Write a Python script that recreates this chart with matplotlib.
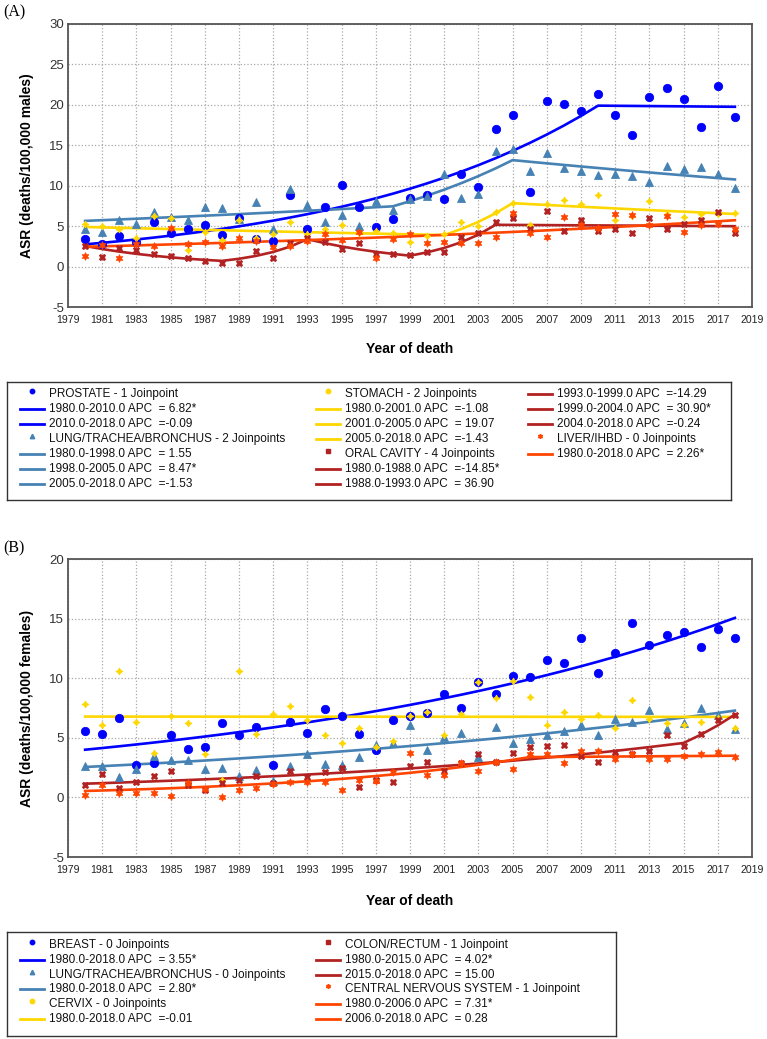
import matplotlib
matplotlib.use('Agg')
import matplotlib.pyplot as plt
from matplotlib import font_manager
import numpy as np

W, H = 767, 1039
installed = {f.name for f in font_manager.fontManager.ttflist}
NARROW = 'Liberation Sans Narrow' if 'Liberation Sans Narrow' in installed else 'Liberation Sans'
plt.rcParams['font.family'] = ['Liberation Sans', 'DejaVu Sans']
plt.rcParams['axes.unicode_minus'] = False

years = np.arange(1980, 2019)

# ---- (A) males ----
prostate = [3.4, 2.8, 3.8, 3.0, 5.5, 4.2, 4.7, 5.2, 3.9, 6.0, 3.4, 3.2, 8.9,
            4.7, 7.4, 10.1, 7.4, 4.9, 5.9, 8.5, 8.9, 8.4, 11.4, 9.9, 17.0, 18.8,
            9.2, 20.5, 20.1, 19.3, 21.3, 18.8, 16.3, 21.0, 22.1, 20.7, 17.3, 22.3, 18.5]
lung_m = [4.6, 4.3, 5.8, 5.3, 6.8, 6.1, 5.8, 7.4, 7.2, 5.9, 8.0, 4.7, 9.6,
          7.6, 5.5, 6.4, 5.0, 8.1, 7.0, 8.4, 8.7, 11.4, 8.5, 9.0, 14.3, 14.5,
          11.8, 14.0, 12.2, 11.8, 11.3, 11.4, 11.2, 10.5, 12.5, 12.1, 12.3, 11.5, 9.7]
stomach = [5.3, 5.0, 4.6, 3.5, 6.3, 6.0, 2.0, 4.3, 3.3, 5.8, 3.5, 4.0, 5.5,
           4.0, 4.7, 5.1, 4.2, 4.4, 4.1, 3.1, 3.8, 4.0, 5.5, 5.0, 6.8, 7.9,
           5.1, 7.7, 8.2, 7.7, 8.9, 5.8, 6.2, 8.1, 6.5, 6.1, 6.5, 6.5, 6.6]
oral = [2.5, 1.2, 2.3, 2.0, 1.5, 1.3, 1.0, 0.7, 0.5, 0.5, 1.9, 1.1, 2.9,
        3.5, 3.0, 2.2, 2.9, 1.6, 1.5, 1.4, 1.8, 1.8, 3.7, 4.2, 5.5, 6.0,
        4.6, 6.9, 4.4, 5.7, 4.4, 4.6, 4.2, 6.0, 4.7, 5.3, 5.8, 6.7, 4.2]
liver = [1.3, 2.7, 1.1, 2.8, 2.6, 4.8, 2.8, 3.0, 2.5, 3.5, 3.2, 2.4, 2.6,
         3.2, 4.0, 3.3, 4.3, 1.1, 3.4, 4.0, 2.9, 3.1, 2.9, 2.9, 3.6, 6.6,
         4.1, 3.7, 6.1, 5.1, 4.8, 6.5, 6.4, 5.2, 6.3, 4.3, 5.2, 5.3, 4.6]

# ---- (B) females ----
breast = [5.6, 5.3, 6.7, 2.7, 2.9, 5.2, 4.1, 4.2, 6.2, 5.2, 5.9, 2.7, 6.3,
          5.4, 7.4, 6.8, 5.3, 4.0, 6.5, 6.8, 7.1, 8.7, 7.5, 9.7, 8.7, 10.2,
          10.1, 11.5, 11.3, 13.4, 10.4, 12.1, 14.6, 12.8, 13.6, 13.9, 12.6, 14.1, 13.4]
lung_f = [2.6, 2.6, 1.7, 2.4, 3.5, 3.1, 3.1, 2.4, 2.5, 1.8, 2.3, 1.4, 2.6,
          3.6, 2.8, 2.7, 3.4, 4.4, 4.6, 6.1, 4.0, 5.1, 5.4, 3.4, 5.9, 4.6,
          4.9, 5.2, 5.6, 6.1, 5.2, 6.6, 6.3, 7.3, 5.7, 6.2, 7.5, 6.9, 5.7]
cervix = [7.8, 6.1, 10.6, 6.3, 3.7, 6.8, 6.2, 3.6, 1.5, 10.6, 5.3, 7.0, 7.7,
          6.5, 5.2, 4.6, 5.8, 4.2, 4.7, 6.8, 7.2, 5.2, 7.0, 9.7, 8.3, 9.8,
          8.4, 6.1, 7.2, 6.6, 6.9, 5.8, 8.2, 6.6, 6.2, 6.1, 6.3, 6.7, 5.8]
colon = [1.0, 2.0, 0.8, 1.3, 1.8, 2.2, 1.0, 0.6, 1.2, 1.5, 1.8, 1.2, 2.2,
         1.7, 2.1, 2.5, 0.9, 1.5, 1.3, 2.6, 3.0, 2.2, 2.9, 3.6, 3.0, 3.7,
         4.2, 4.3, 4.4, 3.5, 3.0, 3.8, 3.6, 3.9, 5.2, 4.3, 5.3, 6.5, 6.9]
cns = [0.2, 1.0, 0.4, 0.4, 0.4, 0.1, 1.2, 0.7, 0.05, 0.6, 0.8, 1.1, 1.3,
       1.3, 1.3, 0.6, 1.5, 1.4, 2.1, 3.7, 1.9, 1.9, 2.9, 2.2, 3.0, 2.4,
       3.6, 3.6, 2.9, 3.9, 3.9, 3.2, 3.6, 3.2, 3.2, 3.5, 3.6, 3.8, 3.4]

# joinpoint models: fitted value in 1980, joinpoint years, APC per segment, significant?
prostate_fit = (2.75, [1980, 2010, 2018], [6.82, -0.09], [True, False])
lung_m_fit = (5.65, [1980, 1998, 2005, 2018], [1.55, 8.47, -1.53], [False, True, False])
stomach_fit = (4.9, [1980, 2001, 2005, 2018], [-1.08, 19.07, -1.43], [False, False, False])
oral_fit = (2.55, [1980, 1988, 1993, 1999, 2004, 2018], [-14.85, 36.90, -14.29, 30.90, -0.24],
            [True, False, False, True, False])
liver_fit = (2.45, [1980, 2018], [2.26], [True])
breast_fit = (4.0, [1980, 2018], [3.55], [True])
lung_f_fit = (2.55, [1980, 2018], [2.80], [True])
cervix_fit = (6.78, [1980, 2018], [-0.01], [False])
colon_fit = (1.15, [1980, 2015, 2018], [4.02, 15.00], [True, False])
cns_fit = (0.54, [1980, 2006, 2018], [7.31, 0.28], [True, False])

BLUE, STEEL, GOLD, DRED, ORED = '#0000ff', '#4682b4', '#ffd700', '#b22222', '#ff4500'
STAR4 = (4, 1, 0)
STAR6 = (6, 1, 0)

panel_a = [
    ('PROSTATE', prostate, prostate_fit, BLUE, 'o', 6),
    ('LUNG/TRACHEA/BRONCHUS', lung_m, lung_m_fit, STEEL, '^', 5.5),
    ('STOMACH', stomach, stomach_fit, GOLD, STAR4, 5),
    ('ORAL CAVITY', oral, oral_fit, DRED, 'X', 5),
    ('LIVER/IHBD', liver, liver_fit, ORED, STAR6, 5.5),
]
panel_b = [
    ('BREAST', breast, breast_fit, BLUE, 'o', 6),
    ('LUNG/TRACHEA/BRONCHUS', lung_f, lung_f_fit, STEEL, '^', 5.5),
    ('CERVIX', cervix, cervix_fit, GOLD, STAR4, 5),
    ('COLON/RECTUM', colon, colon_fit, DRED, 'X', 5),
    ('CENTRAL NERVOUS SYSTEM', cns, cns_fit, ORED, STAR6, 5.5),
]
legend_marker = {'o': 'o', '^': '^', STAR4: 'o', 'X': 's', STAR6: STAR6}


def model(fit):
    start, joins, apcs, _ = fit
    xs, ys = [joins[0]], [start]
    v = start
    for a, b, apc in zip(joins[:-1], joins[1:], apcs):
        for yr in range(a + 1, b + 1):
            v *= 1 + apc / 100.0
            xs.append(yr)
            ys.append(v)
    return xs, ys


def legend_entries(series):
    rows = []
    for name, _, fit, color, marker, _ in series:
        n = len(fit[1]) - 2
        rows.append(('m', color, legend_marker[marker],
                     f"{name} - {n} Joinpoint{'' if n == 1 else 's'}"))
        for a, b, apc, sig in zip(fit[1][:-1], fit[1][1:], fit[2], fit[3]):
            val = f"{apc:.2f}" if apc < 0 else f" {apc:.2f}"
            rows.append(('l', color, None, f"{a:.1f}-{b:.1f} APC  ={val}{'*' if sig else ''}"))
    return rows


def draw_panel(box, series, ymax, ylabel):
    left, top, right, bottom = box
    ax = fig.add_axes([left / W, 1 - bottom / H, (right - left) / W, (bottom - top) / H])
    for name, vals, fit, color, marker, ms in series:
        fx, fy = model(fit)
        ax.plot(fx, fy, color=color, lw=1.9, zorder=2)
    for name, vals, fit, color, marker, ms in series:
        ax.plot(years, vals, linestyle='none', marker=marker, ms=ms, color=color,
                mec=color, mew=0.6, zorder=3)
    ax.set_xlim(1979, 2019)
    ax.set_ylim(-5, ymax)
    ax.set_xticks(range(1979, 2020, 2))
    ax.set_yticks(range(-5, ymax + 1, 5))
    ax.set_xticklabels([str(y) for y in range(1979, 2020, 2)], fontfamily=NARROW, fontsize=7.6)
    ax.tick_params(axis='x', length=0, pad=6, colors='#222222')
    ax.tick_params(axis='y', length=0, pad=3, labelsize=9.5, colors='#333333')
    ax.grid(True, color='#a8a8a8', linestyle=':', linewidth=0.9)
    ax.set_axisbelow(True)
    for s in ax.spines.values():
        s.set_color('#555555')
        s.set_linewidth(1.3)
    ax.set_xlabel('Year of death', fontsize=10, fontweight='bold')
    ax.xaxis.set_label_coords(0.5, -0.125)
    ax.set_ylabel(ylabel, fontsize=10, fontweight='bold')
    ax.yaxis.set_label_coords((34 - left) / (right - left), 0.5)
    return ax


def draw_legend(box, rows, col_x, nrows, row0, step):
    x0, y0, x1, y1 = box
    lax = fig.add_axes([x0 / W, 1 - y1 / H, (x1 - x0) / W, (y1 - y0) / H])
    lax.set_xlim(x0, x1)
    lax.set_ylim(y1, y0)
    lax.set_xticks([])
    lax.set_yticks([])
    for s in lax.spines.values():
        s.set_color('#333333')
        s.set_linewidth(1.0)
    for i, (kind, color, mk, text) in enumerate(rows):
        cx = col_x[i // nrows]
        y = row0 + step * (i % nrows)
        if kind == 'm':
            lax.plot([cx + 12], [y - 3], marker=mk, ms=3.2, color=color, linestyle='none')
        else:
            lax.plot([cx, cx + 24], [y, y], color=color, lw=2)
        lax.text(cx + 29, y, text, fontsize=8.5, va='center', ha='left', color='#111111')


fig = plt.figure(figsize=(W / 100, H / 100), dpi=100)

draw_panel((68, 24, 752, 307), panel_a, 30, 'ASR (deaths/100,000 males)')
draw_panel((68, 559, 752, 857), panel_b, 20, 'ASR (deaths/100,000 females)')

fig.text(3 / W, 1 - 12 / H, '(A)', fontsize=11.5, family='Liberation Serif', va='center', ha='left')
fig.text(3 / W, 1 - 548 / H, '(B)', fontsize=11.5, family='Liberation Serif', va='center', ha='left')

draw_legend((7, 382, 731, 500), legend_entries(panel_a), [20, 316, 528], 7, 394, 15)
draw_legend((7, 932, 616, 1036), legend_entries(panel_b), [20, 316], 6, 945, 14.8)

fig.savefig('out.png', dpi=100)
